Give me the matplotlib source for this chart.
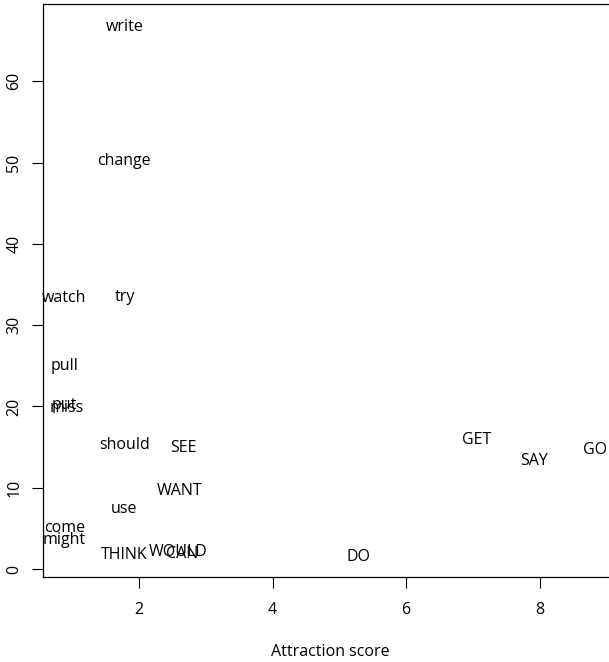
import matplotlib.pyplot as plt

plt.rcParams['font.family'] = ['Open Sans', 'DejaVu Sans']

# words and their attraction scores / frequencies
words = ['write', 'change', 'watch', 'try', 'pull', 'put', 'miss', 'should',
         'SEE', 'GET', 'SAY', 'GO', 'WANT', 'use', 'come', 'might', 'THINK',
         'WOULD', 'CAN', 'DO']
attraction = [1.78, 1.78, 0.88, 1.78, 0.89, 0.88, 0.91, 1.78,
              2.67, 7.06, 7.92, 8.83, 2.60, 1.78, 0.88, 0.88, 1.78,
              2.58, 2.64, 5.28]
freq = [66.7, 50.2, 33.3, 33.5, 25.0, 20.2, 19.8, 15.3,
        14.9, 15.9, 13.3, 14.6, 9.6, 7.4, 5.0, 3.6, 1.7,
        2.1, 1.8, 1.5]

fig = plt.figure(figsize=(6.09, 6.62), dpi=100)
ax = fig.add_axes([0.0706, 0.1284, 0.9294, 0.8656])

for w, x, y in zip(words, attraction, freq):
    ax.text(x, y, w, ha='center', va='center', fontsize=11.5, color='black')

ax.set_xlim(0.56, 9.04)
ax.set_ylim(-0.98, 69.5)
ax.set_xticks([2, 4, 6, 8])
ax.set_yticks([0, 10, 20, 30, 40, 50, 60])
ax.tick_params(direction='out', length=8, width=0.8, labelsize=11.5)
ax.tick_params(axis='x', pad=10)
ax.tick_params(axis='y', pad=7)
for lab in ax.get_yticklabels():
    lab.set_rotation(90)
    lab.set_va('center')
ax.spines['right'].set_visible(False)
for s in ['left', 'bottom', 'top']:
    ax.spines[s].set_linewidth(0.9)
ax.set_xlabel('Attraction score', fontsize=11.5, va='center')
ax.xaxis.set_label_coords(0.507, -0.131)

fig.savefig('out.png', dpi=100)
